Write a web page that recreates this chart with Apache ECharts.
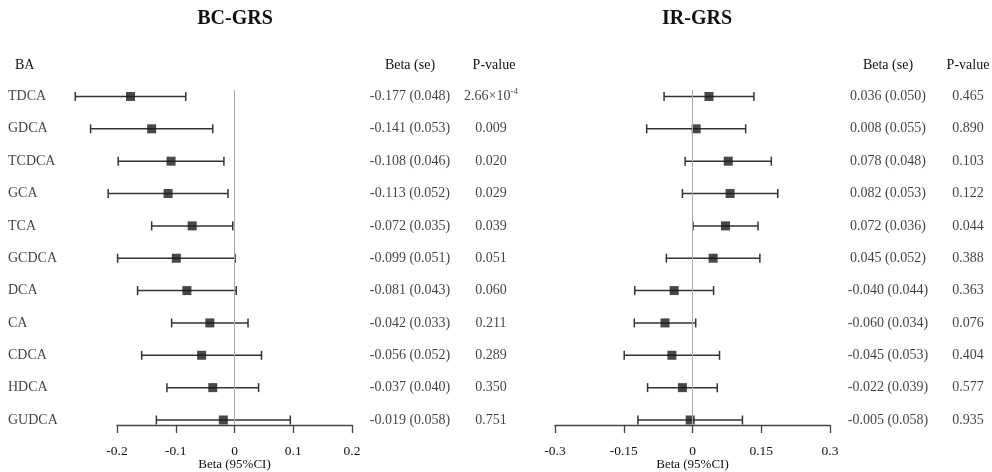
<!DOCTYPE html>
<html>
<head>
<meta charset="utf-8">
<script src="https://cdn.jsdelivr.net/npm/echarts@6/dist/echarts.min.js"></script>
<style>html,body{margin:0;padding:0;background:#fff;}#c{width:992px;height:472px;}</style>
</head>
<body>
<div id="c"></div>
<script>
const categories = ['TDCA','GDCA','TCDCA','GCA','TCA','GCDCA','DCA','CA','CDCA','HDCA','GUDCA'];

const bcBeta  = [-0.177,-0.141,-0.108,-0.113,-0.072,-0.099,-0.081,-0.042,-0.056,-0.037,-0.019];
const bcSe    = [0.048,0.053,0.046,0.052,0.035,0.051,0.043,0.033,0.052,0.040,0.058];
const bcLower = [-0.271,-0.245,-0.198,-0.215,-0.141,-0.199,-0.165,-0.107,-0.158,-0.115,-0.133];
const bcUpper = [-0.083,-0.037,-0.018,-0.011,-0.003,0.001,0.003,0.023,0.046,0.041,0.095];
const bcP     = ['2.66×10{sup|-4}','0.009','0.020','0.029','0.039','0.051','0.060','0.211','0.289','0.350','0.751'];

const irBeta  = [0.036,0.008,0.078,0.082,0.072,0.045,-0.040,-0.060,-0.045,-0.022,-0.005];
const irSe    = [0.050,0.055,0.048,0.053,0.036,0.052,0.044,0.034,0.053,0.039,0.058];
const irLower = [-0.062,-0.100,-0.016,-0.022,0.001,-0.057,-0.126,-0.127,-0.149,-0.098,-0.119];
const irUpper = [0.134,0.116,0.172,0.186,0.143,0.147,0.046,0.007,0.059,0.054,0.109];
const irP     = ['0.465','0.890','0.103','0.122','0.044','0.388','0.363','0.076','0.404','0.577','0.935'];

const bcTicks = [-0.2,-0.1,0,0.1,0.2];
const irTicks = [-0.3,-0.15,0,0.15,0.3];

const FONT = 'Liberation Serif';
const TXT = '#111';

function fmtBeta(b, s){ return b.toFixed(3) + ' (' + s.toFixed(3) + ')'; }

const chart = echarts.init(document.getElementById('c'), null, {renderer:'canvas'});

const gTop = 90, gH = 335;
function mkGrid(left, width){
  return {left:left, width:width, top:gTop, height:gH, containLabel:false, outerBoundsMode:'none'};
}
const grids = [
  mkGrid(117, 235),   // 0 BC forest
  mkGrid(555, 275),   // 1 IR forest
  mkGrid(8, 80),      // 2 BA labels
  mkGrid(360, 100),   // 3 BC beta
  mkGrid(451, 80),    // 4 BC p
  mkGrid(838, 100),   // 5 IR beta
  mkGrid(938, 60)     // 6 IR p
];

function forestXAxis(gi, ticks){
  const min = ticks[0], max = ticks[ticks.length-1];
  return {
    type:'value', gridIndex:gi, min:min, max:max, interval:(max-min)/4,
    position:'bottom',
    name:'Beta (95%CI)', nameLocation:'middle', nameGap:33, nameMoveOverlap:false,
    nameTextStyle:{fontFamily:FONT, fontSize:13, color:TXT},
    axisLine:{show:true, onZero:false, lineStyle:{color:'#444', width:1.3}},
    axisTick:{show:true, length:8, inside:false, lineStyle:{color:'#444', width:1.3}},
    axisLabel:{show:true, margin:19, fontFamily:FONT, fontSize:13.5, color:TXT,
      formatter:function(v){ return String(Math.round(v*100)/100); }},
    splitLine:{show:false}
  };
}
const xAxes = [forestXAxis(0, bcTicks), forestXAxis(1, irTicks)];
for (let g=2; g<=6; g++) xAxes.push({type:'value', gridIndex:g, min:0, max:1, show:false});

const yAxes = [];
for (let g=0; g<=6; g++) yAxes.push({type:'value', gridIndex:g, min:-0.2, max:10.155, inverse:true, show:false});

function errorSeries(ai, lower, upper){
  return {
    type:'custom', xAxisIndex:ai, yAxisIndex:ai, silent:true,
    data: lower.map((l,i)=>[l, upper[i], i]),
    renderItem:function(params, api){
      const p1 = api.coord([api.value(0), api.value(2)]);
      const p2 = api.coord([api.value(1), api.value(2)]);
      const h = 4.5;
      const st = {stroke:'#333', lineWidth:1.5};
      return {type:'group', children:[
        {type:'line', shape:{x1:p1[0], y1:p1[1], x2:p2[0], y2:p2[1]}, style:st},
        {type:'line', shape:{x1:p1[0], y1:p1[1]-h, x2:p1[0], y2:p1[1]+h}, style:st},
        {type:'line', shape:{x1:p2[0], y1:p2[1]-h, x2:p2[0], y2:p2[1]+h}, style:st}
      ]};
    },
    z:3
  };
}
function pointSeries(ai, beta){
  return {
    type:'scatter', xAxisIndex:ai, yAxisIndex:ai, silent:true,
    symbol:'rect', symbolSize:9,
    itemStyle:{color:'#1a1a1a'},
    data: beta.map((b,i)=>[b,i]),
    z:4,
    markLine:{silent:true, symbol:['none','none'], label:{show:false},
      lineStyle:{color:'#aaa', width:1, type:'solid'},
      data:[{xAxis:0}], animation:false}
  };
}
function textSeries(ai, texts, align){
  return {
    type:'scatter', xAxisIndex:ai, yAxisIndex:ai, silent:true,
    symbolSize:0,
    data: texts.map((t,i)=>({value:[align==='left'?0:0.5, i], name:t})),
    label:{show:true, position: align==='left' ? 'right' : 'inside', distance:0,
      formatter:'{b}', fontFamily:FONT, fontSize:14, color:TXT,
      rich:{sup:{fontFamily:FONT, fontSize:9, color:TXT, padding:[0,0,9,0]}}},
    labelLayout:{hideOverlap:false}
  };
}

const bcBetaTxt = bcBeta.map((b,i)=>fmtBeta(b, bcSe[i]));
const irBetaTxt = irBeta.map((b,i)=>fmtBeta(b, irSe[i]));

function hdr(text, x, y){
  return {type:'text', x:x, y:y, silent:true,
    style:{text:text, fontFamily:FONT, fontSize:14, fill:TXT, textAlign:'center', textVerticalAlign:'middle'}};
}

chart.setOption({
  animation:false,
  backgroundColor:'#fff',
  grid: grids,
  xAxis: xAxes,
  yAxis: yAxes,
  series:[
    errorSeries(0, bcLower, bcUpper),
    pointSeries(0, bcBeta),
    errorSeries(1, irLower, irUpper),
    pointSeries(1, irBeta),
    textSeries(2, categories, 'left'),
    textSeries(3, bcBetaTxt, 'center'),
    textSeries(4, bcP, 'center'),
    textSeries(5, irBetaTxt, 'center'),
    textSeries(6, irP, 'center')
  ],
  graphic:[
    {type:'text', x:235, y:19, silent:true, style:{text:'BC-GRS', fontFamily:FONT, fontSize:20, fontWeight:'bold', fill:TXT, textAlign:'center', textVerticalAlign:'middle'}},
    {type:'text', x:697, y:19, silent:true, style:{text:'IR-GRS', fontFamily:FONT, fontSize:20, fontWeight:'bold', fill:TXT, textAlign:'center', textVerticalAlign:'middle'}},
    {type:'text', x:15, y:65, silent:true, style:{text:'BA', fontFamily:FONT, fontSize:14, fill:TXT, textAlign:'left', textVerticalAlign:'middle'}},
    hdr('Beta (se)', 410, 65),
    hdr('P-value', 494, 65),
    hdr('Beta (se)', 888, 65),
    hdr('P-value', 968, 65)
  ]
});
</script>
</body>
</html>
